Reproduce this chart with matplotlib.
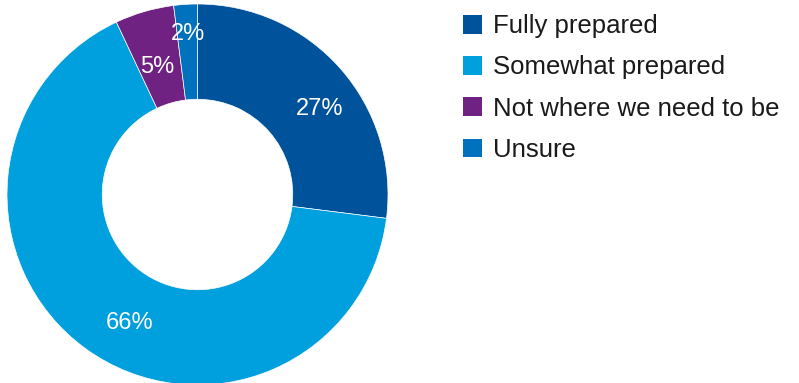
import matplotlib
matplotlib.use("Agg")
import matplotlib.pyplot as plt
import numpy as np

categories = ["Fully prepared", "Somewhat prepared", "Not where we need to be", "Unsure"]
values = [27, 66, 5, 2]
colors = ["#00529B", "#009FDD", "#702283", "#0071BC"]

# label placement (radius, angle in degrees) in pie data units
label_r = [0.782, 0.764, 0.70, 0.846]
label_ang = [35.1, 242.3, 107.7, 93.4]

plt.rcParams['font.family'] = ['Liberation Sans', 'DejaVu Sans']

fig = plt.figure(figsize=(7.99, 3.83), dpi=100)
ax = fig.add_axes([7/799, (383-385)/383, 381/799, 381/383])

wedges, texts, autotexts = ax.pie(
    values, colors=colors, startangle=90, counterclock=False,
    radius=1.0, autopct=lambda p: f"{p:.0f}%", pctdistance=0.76,
    wedgeprops=dict(width=0.5, edgecolor="white", linewidth=0.5),
    textprops=dict(color="white", fontsize=17))
for t, r, a in zip(autotexts, label_r, label_ang):
    t.set_position((r*np.cos(np.radians(a)), r*np.sin(np.radians(a))))
ax.set_xlim(-1, 1)
ax.set_ylim(-1, 1)
ax.set_aspect("equal")
ax.axis("off")

leg = fig.legend(wedges, categories, loc="upper left",
                 bbox_to_anchor=(453/799, 1 - 4/383), frameon=False,
                 fontsize=18.5, handlelength=0.74, handleheight=0.74,
                 handletextpad=0.43, labelspacing=0.67, borderaxespad=0)
for t in leg.get_texts():
    t.set_color("#1a1a1a")
for h in leg.legend_handles:
    h.set_edgecolor("none")

fig.savefig("out.png", dpi=100)
